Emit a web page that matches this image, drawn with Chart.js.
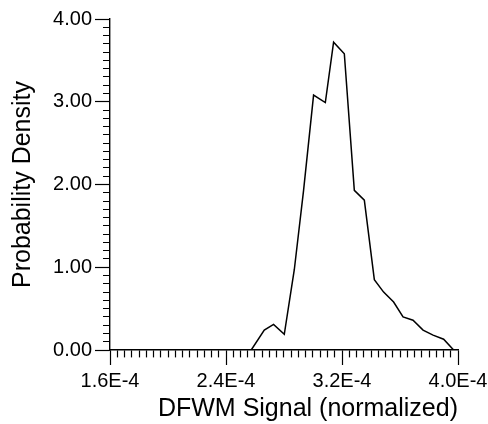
<!DOCTYPE html>
<html>
<head>
<meta charset="utf-8">
<script src="https://cdn.jsdelivr.net/npm/chart.js@4/dist/chart.umd.min.js"></script>
<style>
    html, body { margin: 0; padding: 0; background: #fff; }
    #wrap { width: 488px; height: 424px; }
</style>
</head>
<body>
<div id="wrap"><canvas id="pdfChart" width="488" height="424"></canvas></div>
<script>
// DFWM signal (normalized) vs probability density
const signal = [
    2.574e-4, 2.664e-4, 2.728e-4, 2.802e-4, 2.871e-4, 2.935e-4, 3.004e-4,
    3.085e-4, 3.142e-4, 3.216e-4, 3.285e-4, 3.354e-4, 3.423e-4, 3.487e-4,
    3.556e-4, 3.621e-4, 3.690e-4, 3.759e-4, 3.828e-4, 3.901e-4, 3.970e-4,
];
const density = [
    0.00, 0.24, 0.31, 0.19, 0.97, 1.93, 3.08,
    2.99, 3.72, 3.58, 1.93, 1.81, 0.85, 0.70,
    0.58, 0.40, 0.36, 0.24, 0.18, 0.13, 0.00,
];

// axis ranges / tick steps
const X_MIN = 1.6e-4, X_MAX = 4.0e-4, X_MAJOR = 0.8e-4, X_MINOR = 0.05e-4;
const Y_MIN = 0, Y_MAX = 4, Y_MAJOR = 1, Y_MINOR = 0.1;

const FONT = "'Liberation Sans', Arial, Helvetica, sans-serif";

function is_major(value, step) {
    const r = value / step;
    return Math.abs(r - Math.round(r)) < 1e-6;
}

const points = signal.map((x, i) => ({ x, y: density[i] }));

new Chart(document.getElementById('pdfChart'), {
    type: 'line',
    data: {
        datasets: [{
            data: points,
            borderColor: '#000',
            borderWidth: 1.5,
            pointRadius: 0,
            tension: 0,
            fill: false,
        }],
    },
    options: {
        responsive: false,
        animation: false,
        layout: { padding: { top: 19, right: 30, bottom: 0, left: 0 } },
        plugins: {
            legend: { display: false },
            tooltip: { enabled: false },
        },
        scales: {
            x: {
                type: 'linear',
                min: X_MIN,
                max: X_MAX,
                border: { display: true, color: '#000', width: 1.4 },
                grid: {
                    drawOnChartArea: false,
                    drawTicks: true,
                    tickLength: 15,
                    tickColor: '#000',
                    tickWidth: 1.2,
                    // minor ticks: only the first 7px of the tick is drawn
                    tickBorderDash: ctx => is_major(ctx.tick.value, X_MAJOR) ? [] : [7, 100],
                },
                ticks: {
                    stepSize: X_MINOR,
                    autoSkip: false,
                    maxRotation: 0,
                    padding: 4,
                    color: '#000',
                    font: { family: FONT, size: 20 },
                    callback: v => is_major(v, X_MAJOR) ? `${(v * 1e4).toFixed(1)}E-4` : '',
                },
                title: {
                    display: true,
                    text: 'DFWM Signal (normalized)',
                    align: 'end',
                    color: '#000',
                    font: { family: FONT, size: 25 },
                    padding: { top: 0, bottom: 0 },
                },
                afterFit: scale => {
                    scale.height = 74;
                    scale.paddingLeft = 0;
                    scale.paddingRight = 0;
                },
            },
            y: {
                type: 'linear',
                min: Y_MIN,
                max: Y_MAX,
                border: { display: true, color: '#000', width: 1.4 },
                grid: {
                    drawOnChartArea: false,
                    drawTicks: true,
                    tickLength: 15,
                    tickColor: '#000',
                    tickWidth: 1.2,
                    // tick is drawn from the outer end towards the axis
                    tickBorderDash: ctx => is_major(ctx.tick.value, Y_MAJOR) ? [] : [0, 8, 7, 100],
                },
                ticks: {
                    stepSize: Y_MINOR,
                    autoSkip: false,
                    padding: 3,
                    color: '#000',
                    font: { family: FONT, size: 20 },
                    callback: v => is_major(v, Y_MAJOR) ? v.toFixed(2) : '',
                },
                title: {
                    display: true,
                    text: 'Probability Density',
                    color: '#000',
                    font: { family: FONT, size: 25 },
                    padding: { top: 8, bottom: 0 },
                },
                afterFit: scale => {
                    scale.width = 110;
                    scale.paddingTop = 0;
                    scale.paddingBottom = 0;
                },
            },
        },
    },
});
</script>
</body>
</html>
